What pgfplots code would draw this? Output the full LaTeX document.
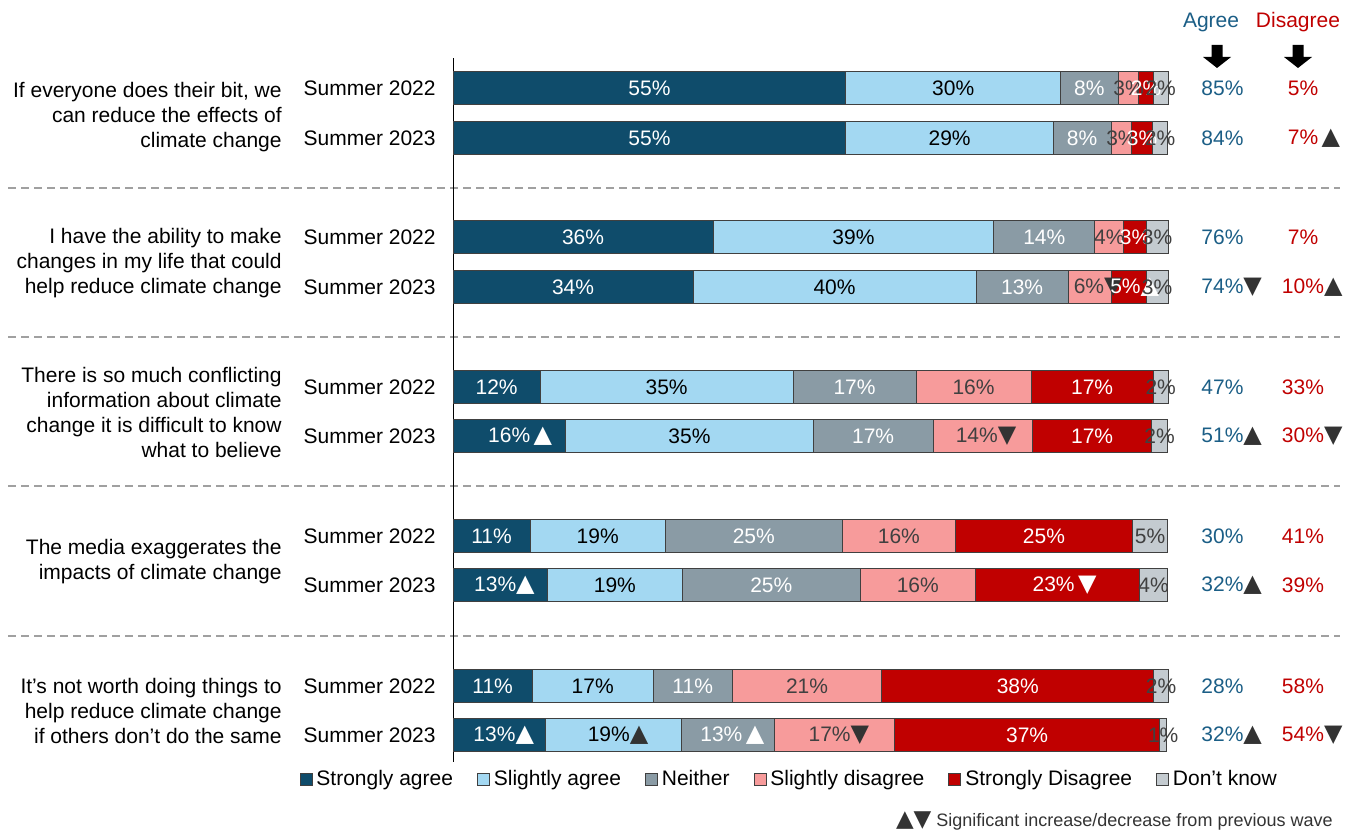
\documentclass[border=0pt]{standalone}
\usepackage{fontspec}
\setmainfont{Liberation Sans}
\newfontfamily\trifont{DejaVu Sans}
\usepackage{pgfplots}
\pgfplotsset{compat=1.18}

\definecolor{cSA}{HTML}{0F4C6B}
\definecolor{cSlA}{HTML}{A3D8F2}
\definecolor{cNe}{HTML}{8A9BA5}
\definecolor{cSlD}{HTML}{F79B9B}
\definecolor{cSD}{HTML}{C00000}
\definecolor{cDK}{HTML}{C4CBD0}
\definecolor{barline}{HTML}{404040}
\definecolor{txtgray}{HTML}{404040}
\definecolor{trigray}{HTML}{333333}
\definecolor{agreeblue}{HTML}{1B5E86}
\definecolor{sepgray}{HTML}{A0A0A0}

\newcommand{\up}{{\trifont\fontsize{12}{12}\selectfont ▲}}
\newcommand{\dn}{{\trifont\fontsize{12}{12}\selectfont ▼}}
\newcommand{\gup}{\textcolor{trigray}{\up}}
\newcommand{\gdn}{\textcolor{trigray}{\dn}}
\newcommand{\lbl}{\fontsize{10.5}{12.5}\selectfont}
% segment label: colour, x centre (percent), y (row), text
\newcommand{\seg}[4]{\node[font=\lbl, inner sep=0pt, text=#1] at (#2,#3) {#4};}

\begin{document}
\begin{tikzpicture}
\begin{axis}[
  scale only axis,
  width=674pt, height=415.5pt,
  xmin=-63.40, xmax=125.26,
  ymin=0, ymax=831,
  y dir=reverse,
  hide axis,
  clip=false,
  xbar stacked,
  bar width=33,
  legend image code/.code={\draw[#1, draw=barline, line width=0.4pt] (0pt,-3pt) rectangle (6pt,3pt);},
  legend columns=6,
  legend style={at={(axis cs:47.2,779)}, anchor=center, draw=none, fill=none, font=\lbl,
     /tikz/every even column/.append style={column sep=10pt}},
]
% strongly agree
\addplot[fill=cSA, draw=barline, line width=0.5pt] coordinates {
  (55.0,88) (55.0,138) (36.4,237) (33.6,287) (12.2,387)
  (15.8,436) (10.8,536) (13.2,585) (11.1,686) (13.0,735)
};
\addlegendentry{Strongly agree}
% slightly agree
\addplot[fill=cSlA, draw=barline, line width=0.5pt] coordinates {
  (30.0,88) (29.0,138) (39.3,237) (39.6,287) (35.4,387)
  (34.6,436) (18.9,536) (18.9,585) (16.9,686) (19.0,735)
};
\addlegendentry{Slightly agree}
% neither
\addplot[fill=cNe, draw=barline, line width=0.5pt] coordinates {
  (8.1,88) (8.1,138) (14.1,237) (12.9,287) (17.2,387)
  (16.8,436) (24.8,536) (24.9,585) (11.1,686) (13.0,735)
};
\addlegendentry{Neither}
% slightly disagree
\addplot[fill=cSlD, draw=barline, line width=0.5pt] coordinates {
  (2.9,88) (2.9,138) (4.1,237) (6.0,287) (16.1,387)
  (13.9,436) (15.8,536) (16.1,585) (20.9,686) (16.8,735)
};
\addlegendentry{Slightly disagree}
% strongly disagree
\addplot[fill=cSD, draw=barline, line width=0.5pt] coordinates {
  (2.0,88) (2.9,138) (3.1,237) (4.9,287) (17.1,387)
  (16.7,436) (24.8,536) (23.0,585) (38.1,686) (37.1,735)
};
\addlegendentry{Strongly Disagree}
% don't know
\addplot[fill=cDK, draw=barline, line width=0.5pt] coordinates {
  (2.1,88) (2.1,138) (3.1,237) (3.1,287) (2.1,387)
  (2.2,436) (4.9,536) (3.9,585) (2.0,686) (1.0,735)
};
\addlegendentry{Don't know}

% frame of the page and origin for the labels drawn on top
\coordinate (BL) at (rel axis cs:0,0);
\coordinate (TR) at (rel axis cs:1,1);
\coordinate (O) at (axis cs:0,0);

% axis line and separators
\draw[black, line width=0.5pt] (axis cs:0,58) -- (axis cs:0,762);
\draw[sepgray, line width=1pt, dash pattern=on 4pt off 2.5pt] (axis cs:-62.28,188) -- (axis cs:124.14,188);
\draw[sepgray, line width=1pt, dash pattern=on 4pt off 2.5pt] (axis cs:-62.28,337) -- (axis cs:124.14,337);
\draw[sepgray, line width=1pt, dash pattern=on 4pt off 2.5pt] (axis cs:-62.28,486) -- (axis cs:124.14,486);
\draw[sepgray, line width=1pt, dash pattern=on 4pt off 2.5pt] (axis cs:-62.28,636) -- (axis cs:124.14,636);

% statements
\node[font=\lbl, align=right, anchor=east, inner sep=0pt] at (axis cs:-23.93,117) {If everyone does their bit, we\\can reduce the effects of\\climate change};
\node[font=\lbl, align=right, anchor=east, inner sep=0pt] at (axis cs:-23.93,263.5) {I have the ability to make\\changes in my life that could\\help reduce climate change};
\node[font=\lbl, align=right, anchor=east, inner sep=0pt] at (axis cs:-23.93,412.5) {There is so much conflicting\\information about climate\\change it is difficult to know\\what to believe};
\node[font=\lbl, align=right, anchor=east, inner sep=0pt] at (axis cs:-23.93,562) {The media exaggerates the\\impacts of climate change};
\node[font=\lbl, align=right, anchor=east, inner sep=0pt] at (axis cs:-23.93,711) {It's not worth doing things to\\help reduce climate change\\if others don't do the same};
\node[font=\lbl, anchor=east, inner sep=0pt] at (axis cs:-2.38,88) {Summer 2022};
\node[font=\lbl, anchor=east, inner sep=0pt] at (axis cs:-2.38,237) {Summer 2022};
\node[font=\lbl, anchor=east, inner sep=0pt] at (axis cs:-2.38,387) {Summer 2022};
\node[font=\lbl, anchor=east, inner sep=0pt] at (axis cs:-2.38,536) {Summer 2022};
\node[font=\lbl, anchor=east, inner sep=0pt] at (axis cs:-2.38,686) {Summer 2022};
\node[font=\lbl, anchor=east, inner sep=0pt] at (axis cs:-2.38,138) {Summer 2023};
\node[font=\lbl, anchor=east, inner sep=0pt] at (axis cs:-2.38,287) {Summer 2023};
\node[font=\lbl, anchor=east, inner sep=0pt] at (axis cs:-2.38,436) {Summer 2023};
\node[font=\lbl, anchor=east, inner sep=0pt] at (axis cs:-2.38,585) {Summer 2023};
\node[font=\lbl, anchor=east, inner sep=0pt] at (axis cs:-2.38,735) {Summer 2023};

% headers
\node[font=\lbl, text=agreeblue] at (axis cs:106.09,22) {Agree};
\node[font=\lbl, text=cSD] at (axis cs:118.26,22) {Disagree};

% net agree
\node[font=\lbl, text=agreeblue, anchor=west, inner sep=0pt] at (axis cs:104.69,88) {85\%};
\node[font=\lbl, text=agreeblue, anchor=west, inner sep=0pt] at (axis cs:104.69,138) {84\%};
\node[font=\lbl, text=agreeblue, anchor=west, inner sep=0pt] at (axis cs:104.69,237) {76\%};
\node[font=\lbl, text=agreeblue, anchor=west, inner sep=0pt] at (axis cs:104.69,287) {74\%\gdn};
\node[font=\lbl, text=agreeblue, anchor=west, inner sep=0pt] at (axis cs:104.69,387) {47\%};
\node[font=\lbl, text=agreeblue, anchor=west, inner sep=0pt] at (axis cs:104.69,436) {51\%\gup};
\node[font=\lbl, text=agreeblue, anchor=west, inner sep=0pt] at (axis cs:104.69,536) {30\%};
\node[font=\lbl, text=agreeblue, anchor=west, inner sep=0pt] at (axis cs:104.69,585) {32\%\gup};
\node[font=\lbl, text=agreeblue, anchor=west, inner sep=0pt] at (axis cs:104.69,686) {28\%};
\node[font=\lbl, text=agreeblue, anchor=west, inner sep=0pt] at (axis cs:104.69,735) {32\%\gup};
% net disagree
\node[font=\lbl, text=cSD, inner sep=0pt] at (axis cs:118.96,88) {5\%};
\node[font=\lbl, text=cSD, inner sep=0pt] at (axis cs:118.96,138) {7\%\rlap{\,\gup}};
\node[font=\lbl, text=cSD, inner sep=0pt] at (axis cs:118.96,237) {7\%};
\node[font=\lbl, text=cSD, inner sep=0pt] at (axis cs:118.96,287) {10\%\rlap{\gup}};
\node[font=\lbl, text=cSD, inner sep=0pt] at (axis cs:118.96,387) {33\%};
\node[font=\lbl, text=cSD, inner sep=0pt] at (axis cs:118.96,436) {30\%\rlap{\gdn}};
\node[font=\lbl, text=cSD, inner sep=0pt] at (axis cs:118.96,536) {41\%};
\node[font=\lbl, text=cSD, inner sep=0pt] at (axis cs:118.96,585) {39\%};
\node[font=\lbl, text=cSD, inner sep=0pt] at (axis cs:118.96,686) {58\%};
\node[font=\lbl, text=cSD, inner sep=0pt] at (axis cs:118.96,735) {54\%\rlap{\gdn}};

% footnote
\node[anchor=east, inner sep=0pt, font=\fontsize{9}{10}\selectfont, text=trigray] at (axis cs:123.16,821) {{\trifont\fontsize{11.5}{11.5}\selectfont ▲▼} Significant increase/decrease from previous wave};
\end{axis}

% labels and arrows on top of the bars: same units as the axis (percent across, rows down)
\begin{scope}[shift={(O)}, x=3.57256pt, y=-0.5pt]
\seg{white}{27.5}{88}{55\%}  \seg{black}{70}{88}{30\%}  \seg{white}{89.05}{88}{8\%}
\seg{txtgray}{94.55}{88}{3\%} \seg{white}{97}{88}{2\%} \seg{txtgray}{99.05}{88}{2\%}
\seg{white}{27.5}{138}{55\%}  \seg{black}{69.5}{138}{29\%}  \seg{white}{88.05}{138}{8\%}
\seg{txtgray}{93.55}{138}{3\%} \seg{white}{96.45}{138}{3\%} \seg{txtgray}{98.95}{138}{2\%}
\seg{white}{18.2}{237}{36\%}  \seg{black}{56.05}{237}{39\%}  \seg{white}{82.75}{237}{14\%}
\seg{txtgray}{91.85}{237}{4\%} \seg{white}{95.45}{237}{3\%} \seg{txtgray}{98.55}{237}{3\%}
\seg{white}{16.8}{287}{34\%}  \seg{black}{53.4}{287}{40\%}  \seg{white}{79.65}{287}{13\%}
\seg{txtgray}{90.3}{287}{6\%\gdn} \seg{white}{95.4}{287}{5\%\up} \seg{txtgray}{98.55}{287}{3\%}
\seg{white}{6.1}{387}{12\%}  \seg{black}{29.9}{387}{35\%}  \seg{white}{56.2}{387}{17\%}
\seg{txtgray}{72.85}{387}{16\%} \seg{white}{89.45}{387}{17\%} \seg{txtgray}{99.05}{387}{2\%}
\seg{white}{9.4}{436}{16\%\,\up}  \seg{black}{33.1}{436}{35\%}  \seg{white}{58.8}{436}{17\%}
\seg{txtgray}{74.6}{436}{14\%\gdn} \seg{white}{89.45}{436}{17\%} \seg{txtgray}{98.9}{436}{2\%}
\seg{white}{5.4}{536}{11\%}  \seg{black}{20.25}{536}{19\%}  \seg{white}{42.1}{536}{25\%}
\seg{txtgray}{62.4}{536}{16\%} \seg{white}{82.7}{536}{25\%} \seg{txtgray}{97.55}{536}{5\%}
\seg{white}{7.2}{585}{13\%\up}  \seg{black}{22.65}{585}{19\%}  \seg{white}{44.55}{585}{25\%}
\seg{txtgray}{65.05}{585}{16\%} \seg{white}{85.6}{585}{23\%\,\dn} \seg{txtgray}{98.05}{585}{4\%}
\seg{white}{5.55}{686}{11\%}  \seg{black}{19.55}{686}{17\%}  \seg{white}{33.55}{686}{11\%}
\seg{txtgray}{49.55}{686}{21\%} \seg{white}{79.05}{686}{38\%} \seg{txtgray}{99.1}{686}{2\%}
\seg{white}{7.1}{735}{13\%\up}  \seg{black}{23.1}{735}{19\%\gup}  \seg{white}{39.1}{735}{13\%\,\up}
\seg{txtgray}{54.0}{735}{17\%\gdn} \seg{white}{80.35}{735}{37\%} \seg{txtgray}{99.4}{735}{1\%}
\fill[black] (106.93,45) ++(-2.75pt,0pt) -- ++(0pt,-6pt) -- ++(-4.25pt,0pt) -- ++(7pt,-5.5pt) -- ++(7pt,5.5pt) -- ++(-4.25pt,0pt) -- ++(0pt,6pt) -- cycle;
\fill[black] (118.26,45) ++(-2.75pt,0pt) -- ++(0pt,-6pt) -- ++(-4.25pt,0pt) -- ++(7pt,-5.5pt) -- ++(7pt,5.5pt) -- ++(-4.25pt,0pt) -- ++(0pt,6pt) -- cycle;
\end{scope}
\pgfresetboundingbox
\useasboundingbox (BL) rectangle (TR);
\end{tikzpicture}
\end{document}
